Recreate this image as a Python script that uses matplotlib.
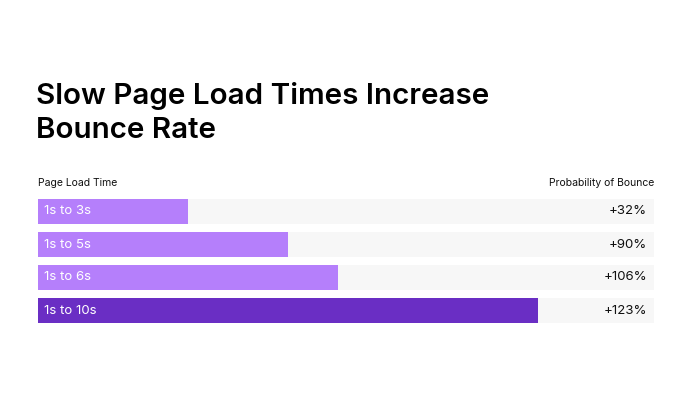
import matplotlib.pyplot as plt

labels = ['1s to 3s', '1s to 5s', '1s to 6s', '1s to 10s']
seconds = [3, 5, 6, 10]
bounce = ['+32%', '+90%', '+106%', '+123%']
track_max = 12.32

light = '#b57ffb'
dark = '#6a2ec4'
track = '#f7f7f7'

plt.rcParams['font.family'] = ['Inter', 'DejaVu Sans']

W, H = 692, 399
fig = plt.figure(figsize=(W / 100, H / 100), dpi=100)
fig.patch.set_facecolor('white')

# axes spans the grey tracks
ax = fig.add_axes([38 / W, (H - 323) / H, 616 / W, 124 / H])
h = 25 / 33
ys = range(len(labels))
ax.barh(ys, [track_max] * len(labels), height=h, color=track, left=0)
colors = [light, light, light, dark]
ax.barh(ys, seconds, height=h, color=colors)
ax.set_xlim(0, track_max)
ax.set_ylim(len(labels) - 1 + h / 2, -h / 2)
ax.axis('off')

for i, (lab, val) in enumerate(zip(labels, bounce)):
    ax.annotate(lab, (0, i), xytext=(4.5, 0), textcoords='offset points',
                va='center', ha='left', color='white', fontsize=9.5)
    ax.annotate(val, (track_max, i), xytext=(-5, 0), textcoords='offset points',
                va='center', ha='right', color='#111111', fontsize=9.5)

fig.text(38 / W, 1 - 183 / H, 'Page Load Time', fontsize=7.5, color='#111111',
         va='center', ha='left')
fig.text(654 / W, 1 - 183 / H, 'Probability of Bounce', fontsize=7.5, color='#111111',
         va='center', ha='right')
fig.text(36 / W, 1 - 96 / H, 'Slow Page Load Times Increase', fontsize=21.3,
         fontweight='semibold', color='#000000', va='center', ha='left')
fig.text(36 / W, 1 - 131 / H, 'Bounce Rate', fontsize=21.3,
         fontweight='semibold', color='#000000', va='center', ha='left')

fig.savefig('out.png', dpi=100, facecolor='white')
